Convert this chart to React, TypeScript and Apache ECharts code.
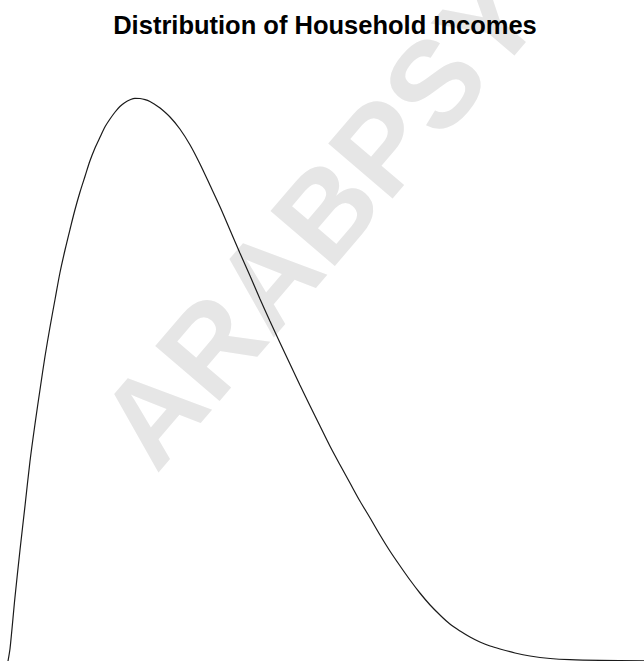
import React, { useEffect, useRef } from "react";
import * as echarts from "echarts";

// Household income in thousands of dollars
const incomes = [
  0, 0.7, 2.3, 4, 5.7, 7.3, 9, 10.7, 12.3, 14, 15.7, 17.3, 19, 20.7, 22.3, 24, 25.7, 27.3, 29, 30.7,
  32.3, 34, 35.7, 37.3, 39, 40.7, 42.3, 44, 45.7, 47.3, 49, 50.7, 54, 57.3, 60.7, 64, 67.3, 70.7, 74,
  77.3, 80.7, 84, 87.3, 90.7, 94, 97.3, 100.7, 104, 107.3, 110.7, 114, 117.3, 120.7, 124, 127.3,
  130.7, 134, 137.3, 140.7, 144, 147.3, 150.7, 154, 157.3, 160.7, 164, 169, 174, 180.7, 187.3, 197.3, 212,
];
// Probability density (per $1k)
const densities = [
  0, 0.000325, 0.001575, 0.002775, 0.0039, 0.004975, 0.005925, 0.0068, 0.0076, 0.00835, 0.00905,
  0.0097, 0.010275, 0.0108, 0.011275, 0.011725, 0.012125, 0.0125, 0.012825, 0.0131, 0.01335, 0.01355,
  0.013725, 0.013863, 0.013963, 0.01403, 0.014068, 0.014063, 0.014035, 0.013988, 0.013913, 0.013825,
  0.0136, 0.0133, 0.0129, 0.012425, 0.0119, 0.01135, 0.010775, 0.0102, 0.009625, 0.00905, 0.0085,
  0.00795, 0.007425, 0.0069, 0.006375, 0.005875, 0.005375, 0.0049, 0.00445, 0.004, 0.003575, 0.00315,
  0.00275, 0.002375, 0.002025, 0.0017, 0.0014, 0.00115, 0.000925, 0.00075, 0.0006, 0.000475, 0.000375,
  0.0003, 0.0002, 0.000125, 0.0000625, 0.0000325, 0.000015, 0.000005,
];

const titleText = "Distribution of Household Incomes";
const watermarkText = "ARABPSYC";

export default function App() {
  const ref = useRef<HTMLDivElement>(null);
  useEffect(() => {
    if (!ref.current) return;
    const chart = echarts.init(ref.current, null, { renderer: "svg" });
    const data = incomes.map((x, i) => [x, densities[i]]);
    chart.setOption({
      animation: false,
      backgroundColor: "#ffffff",
      grid: { left: 8, right: 0, top: 0, bottom: 0 },
      xAxis: { type: "value", min: 0, max: 212, show: false },
      yAxis: { type: "value", min: 0, max: 0.016525, show: false },
      graphic: [
        {
          type: "text",
          z: 0,
          x: 171,
          y: 487,
          rotation: (49.5 * Math.PI) / 180,
          style: {
            text: watermarkText,
            fill: "#e6e6e6",
            font: "bold 123px 'Liberation Sans', Arial, sans-serif",
            textAlign: "left",
            textVerticalAlign: "bottom",
          },
        },
        {
          type: "text",
          z: 10,
          x: 325,
          y: 25,
          style: {
            text: titleText,
            fill: "#000000",
            font: "bold 25.5px 'Liberation Sans', Arial, sans-serif",
            textAlign: "center",
            textVerticalAlign: "middle",
          },
        },
      ],
      series: [
        {
          type: "line",
          data,
          z: 5,
          smooth: 0.3,
          showSymbol: false,
          symbol: "none",
          lineStyle: { color: "#1a1a1a", width: 1.2 },
          silent: true,
        },
      ],
    });
    return () => chart.dispose();
  }, []);
  return (
    <div
      ref={ref}
      style={{ position: "absolute", left: 0, top: 0, width: 644, height: 661 }}
    />
  );
}
